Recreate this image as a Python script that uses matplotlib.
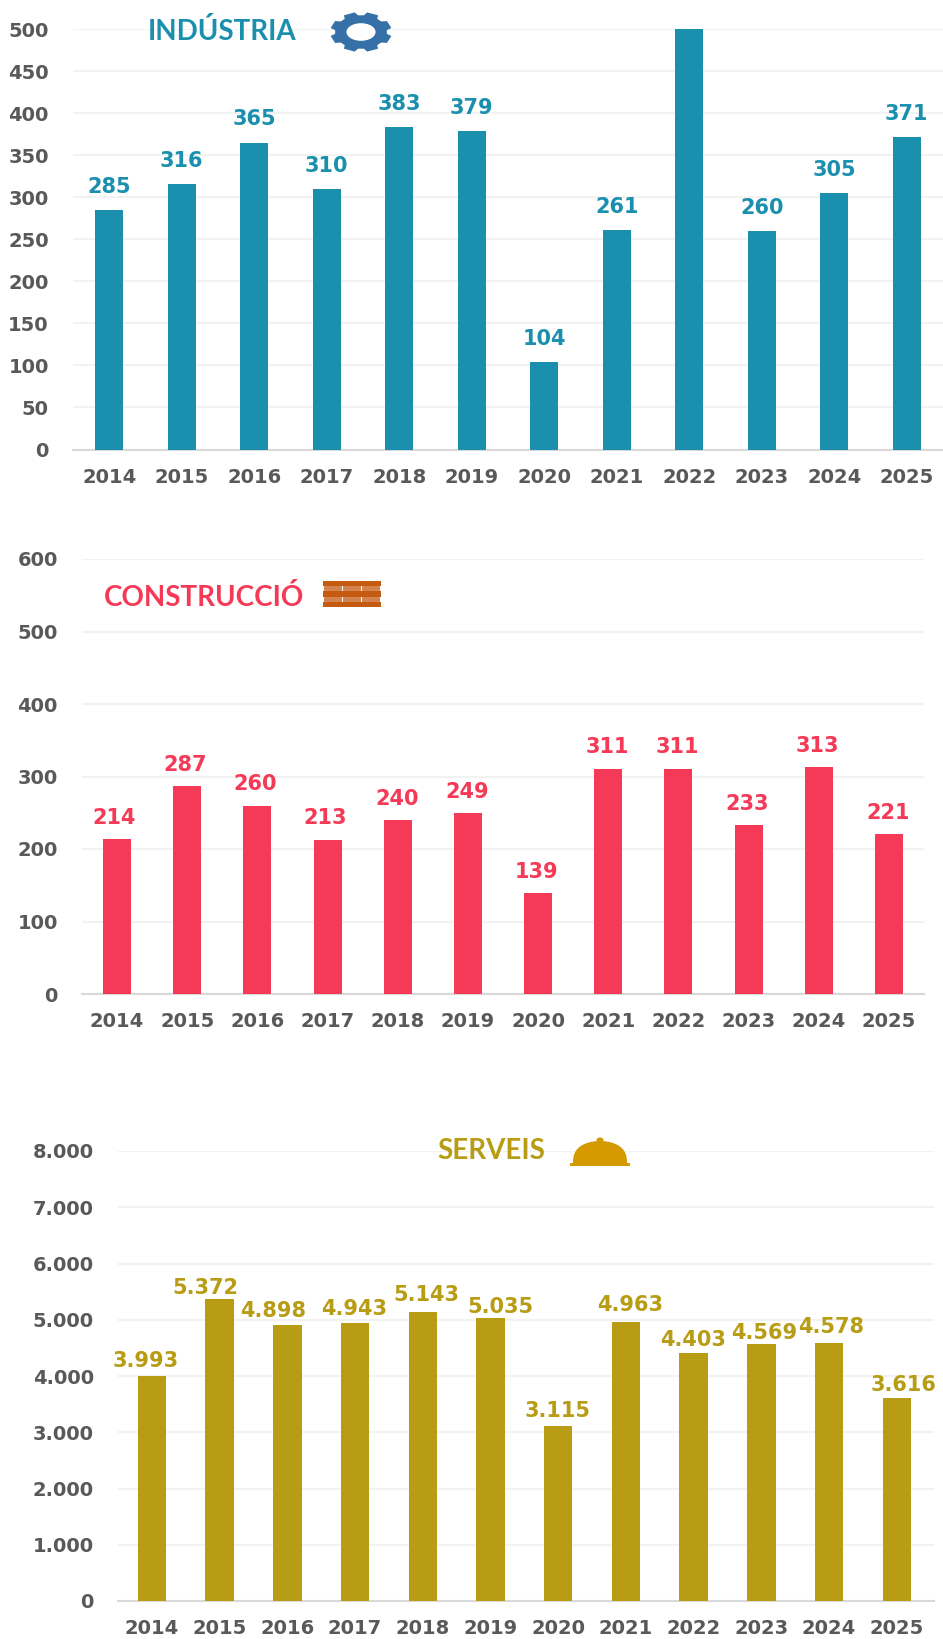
import matplotlib
matplotlib.use("Agg")
import matplotlib.pyplot as plt
import numpy as np
from matplotlib.patches import Ellipse, Polygon, Rectangle

YEARS = ["2014", "2015", "2016", "2017", "2018", "2019", "2020", "2021", "2022", "2023", "2024", "2025"]

INDUSTRIA = [285, 316, 365, 310, 383, 379, 104, 261, 500, 260, 305, 371]
CONSTRUCCIO = [214, 287, 260, 213, 240, 249, 139, 311, 311, 233, 313, 221]
SERVEIS = [3993, 5372, 4898, 4943, 5143, 5035, 3115, 4963, 4403, 4569, 4578, 3616]

INDUSTRIA_TICKS = [0, 50, 100, 150, 200, 250, 300, 350, 400, 450, 500]
CONSTRUCCIO_TICKS = [0, 100, 200, 300, 400, 500, 600]
SERVEIS_TICKS = [0, 1000, 2000, 3000, 4000, 5000, 6000, 7000, 8000]

# the 2022 industry bar runs off the top of the scale and has no label in the original
INDUSTRIA_HIDDEN = [8]

# label shift in px, the services ones are moved by hand in the original
SERVEIS_DX = [-6, -14, -14, -1, 4, 10, -1, 4, -1, 3, 2, 7]
SERVEIS_DY = [8, 13, 9, 10, 7, 13, 9, 7, 11, 13, 7, 11]
CONSTRUCCIO_DX = [-3, -2, -2, -2, -1, -1, -2, -1, -1, -1, -1, -1]

W, H = 943, 1639
TEXT = "#595959"
GRID = "#F2F2F2"
AXIS = "#D9D9D9"
TEAL = "#1B90AE"
RED = "#F43A56"
GOLD = "#B79C14"


def fmt(v):
    return f"{v:,}".replace(",", ".")


def draw_panel(fig, box, values, ticks, color, width, lift, dx=None, dy=None, hidden=(), right_pad=0.0):
    left, right, top, bottom = box
    ax = fig.add_axes([left / W, 1 - bottom / H, (right - left) / W, (bottom - top) / H])
    x = np.arange(len(values))
    ax.bar(x, values, width=width, color=color, zorder=3)
    ax.set_xlim(-0.5, len(values) - 0.5 + right_pad)
    ax.set_ylim(ticks[0], ticks[-1])
    ax.set_xticks(x, YEARS)
    ax.set_yticks(ticks, [fmt(t) for t in ticks])
    ax.tick_params(axis="x", length=0, pad=13, labelsize=14, labelcolor=TEXT)
    ax.tick_params(axis="y", length=0, pad=17.5, labelsize=14, labelcolor=TEXT)
    for lab in ax.get_xticklabels() + ax.get_yticklabels():
        lab.set_fontweight("bold")
    ax.grid(axis="y", color=GRID, linewidth=1.5, zorder=0)
    ax.set_axisbelow(True)
    for side in ["top", "left", "right"]:
        ax.spines[side].set_visible(False)
    ax.spines["bottom"].set_color(AXIS)
    ax.spines["bottom"].set_linewidth(1.5)
    for i, v in enumerate(values):
        if i in hidden:
            continue
        ox = dx[i] if dx else 0
        oy = dy[i] if dy else 0
        ax.annotate(fmt(v), (i, v), xytext=(ox * 0.72, lift - oy * 0.72), textcoords="offset points",
                    ha="center", va="bottom", fontsize=15, fontweight="bold", color=color)
    return ax


def draw_gear(ov, cx, cy, rx, ry, color):
    pts = []
    teeth = 8
    step = 2 * np.pi / teeth
    for i in range(teeth):
        a = step * i + np.pi / 8
        for da, r in [(-0.36, 0.84), (-0.24, 1.0), (0.24, 1.0), (0.36, 0.84)]:
            pts.append((cx + rx * r * np.cos(a + da * step), cy + ry * r * np.sin(a + da * step)))
    ov.add_patch(Polygon(pts, closed=True, color=color, lw=0))
    ov.add_patch(Ellipse((cx, cy), 2 * rx * 0.47, 2 * ry * 0.44, color="white", lw=0))


def draw_bricks(ov, x0, x1, y0, y1, color):
    rows = 2
    h = (y1 - y0) / (rows * 2 + 1)
    w = x1 - x0
    for r in range(rows + 1):
        ov.add_patch(Rectangle((x0, y0 + r * 2 * h), w, h, color=color, lw=0))
    # courses of shorter bricks between the solid bands
    for r in range(rows):
        y = y0 + (r * 2 + 1) * h
        for s in [0.02, 0.35, 0.68]:
            ov.add_patch(Rectangle((x0 + w * s, y), w * 0.30, h, color=color, lw=0, alpha=0.75))


def draw_cloche(ov, cx, base, rx, ry, color):
    t = np.linspace(np.pi, 2 * np.pi, 60)
    dome = np.column_stack([cx + rx * np.cos(t), base - ry * np.abs(np.sin(t)) ** 0.7])
    ov.add_patch(Polygon(dome, closed=True, color=color, lw=0))
    ov.add_patch(Ellipse((cx, base - ry - 1), 7, 5, color=color, lw=0))
    ov.add_patch(Rectangle((cx - rx - 3, base - 1), 2 * rx + 6, 3, color=color, lw=0))


fig = plt.figure(figsize=(W / 100, H / 100), dpi=100)

draw_panel(fig, (73, 943, 29, 449.5), INDUSTRIA, INDUSTRIA_TICKS, TEAL, 0.39, 9.5, hidden=INDUSTRIA_HIDDEN)
draw_panel(fig, (82, 924, 559, 994), CONSTRUCCIO, CONSTRUCCIO_TICKS, RED, 0.40, 8, dx=CONSTRUCCIO_DX)
draw_panel(fig, (118, 934, 1151, 1601), SERVEIS, SERVEIS_TICKS, GOLD, 0.42, 10,
           dx=SERVEIS_DX, dy=SERVEIS_DY, right_pad=0.05)

# titles and pictograms sit on top of the plots, placed in pixels
ov = fig.add_axes([0, 0, 1, 1], zorder=10)
ov.set_xlim(0, W)
ov.set_ylim(H, 0)
ov.axis("off")
ov.patch.set_alpha(0)

title_font = dict(family="Lato", fontweight="bold", fontsize=20, va="center", ha="left")
ov.text(148, 32, "INDÚSTRIA", color=TEAL, **title_font)
ov.text(104, 598, "CONSTRUCCIÓ", color=RED, **title_font)
ov.text(437, 1151, "SERVEIS", color=GOLD, **title_font)

draw_gear(ov, 361, 32, 31, 20, "#3571A8")
draw_bricks(ov, 323, 381, 581, 607, "#C55A11")
draw_cloche(ov, 600, 1164, 27, 23, "#D49A00")

fig.savefig("out.png", dpi=100, facecolor="white")
plt.close(fig)
